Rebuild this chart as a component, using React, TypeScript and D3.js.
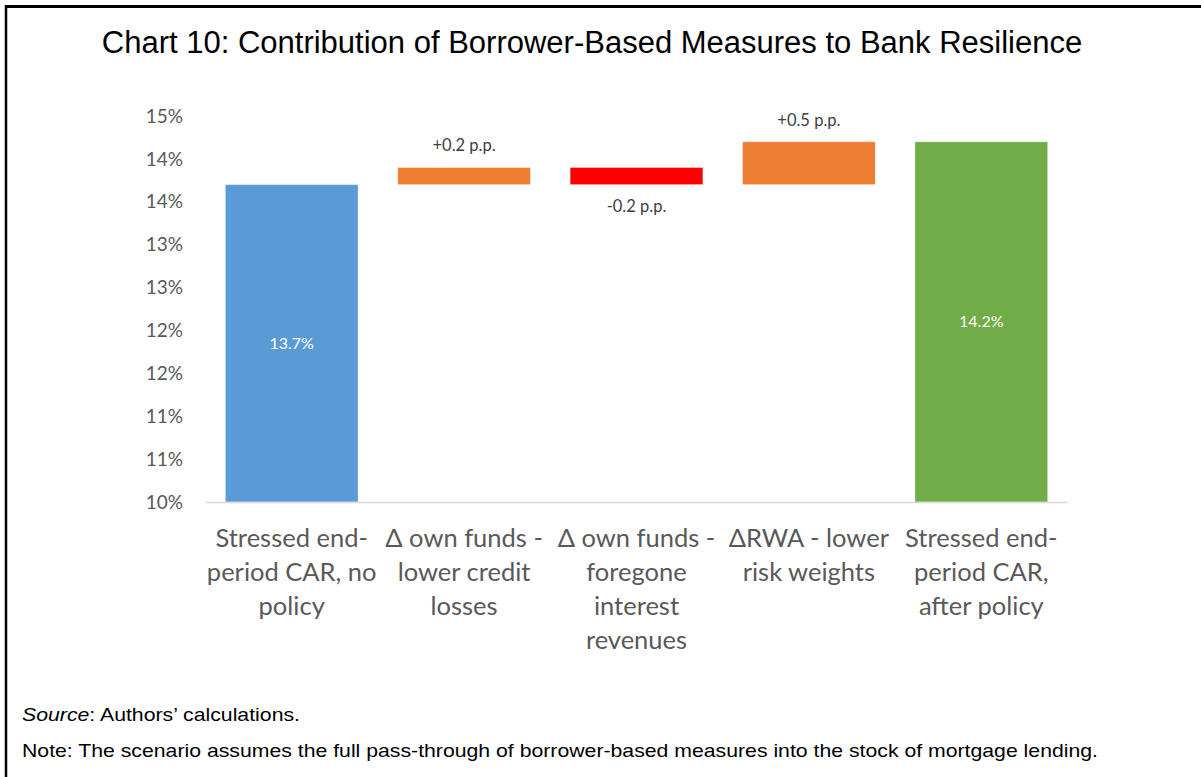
import React from "react";
import * as d3 from "d3";

const categories: string[][] = [
  ["Stressed end-", "period CAR, no", "policy"],
  ["Δ own funds -", "lower credit", "losses"],
  ["Δ own funds -", "foregone", "interest", "revenues"],
  ["ΔRWA - lower", "risk weights"],
  ["Stressed end-", "period CAR,", "after policy"],
];
const values: number[] = [13.7, 0.2, -0.2, 0.5, 14.2];
const kinds: string[] = ["total", "delta", "delta", "delta", "total"];
const barColors: string[] = ["#5B9BD5", "#ED7D31", "#FF0000", "#ED7D31", "#70AD47"];
const dataLabels: string[] = ["13.7%", "+0.2 p.p.", "-0.2 p.p.", "+0.5 p.p.", "14.2%"];
const tickValues: number[] = [10, 10.5, 11, 11.5, 12, 12.5, 13, 13.5, 14, 14.5];
const tickLabels: string[] = ["10%", "11%", "11%", "12%", "12%", "13%", "13%", "14%", "14%", "15%"];

const W = 1201;
const H = 777;
const CAL = "Lato, 'Open Sans', sans-serif";
const ARIAL = "'Liberation Sans', Arial, sans-serif";

export default function App() {
  const x = d3
    .scaleBand<number>()
    .domain(values.map((_, i) => i))
    .range([205.5, 1067.5])
    .paddingInner(0.23)
    .paddingOuter(0.115);
  const y = d3.scaleLinear().domain([10, 14.5]).range([502, 116]);

  let cum = 0;
  const bars = values.map((v, i) => {
    let lo: number, hi: number;
    if (kinds[i] === "total") {
      lo = 10;
      hi = v;
      cum = v;
    } else {
      const start = cum;
      cum = cum + v;
      lo = Math.min(start, cum);
      hi = Math.max(start, cum);
    }
    return { i, v, lo, hi };
  });

  return (
    <svg
      width={W}
      height={H}
      style={{ position: "absolute", left: 0, top: 0, background: "#fff" }}
    >
      <rect x={0} y={0} width={W} height={H} fill="#fff" />
      <line x1={5} y1={6.5} x2={W} y2={6.5} stroke="#000" strokeWidth={3} />
      <line x1={6} y1={5} x2={6} y2={H} stroke="#000" strokeWidth={2.5} />
      <text
        x={592}
        y={53}
        textAnchor="middle"
        fontFamily={ARIAL}
        fontSize={31}
        fill="#000"
      >
        Chart 10: Contribution of Borrower-Based Measures to Bank Resilience
      </text>

      {tickValues.map((t, k) => (
        <text
          key={k}
          x={183}
          y={y(t)}
          dy="0.35em"
          textAnchor="end"
          fontFamily={CAL}
          fontSize={19}
          fill="#595959"
        >
          {tickLabels[k]}
        </text>
      ))}

      {bars.map((b) => {
        const bx = x(b.i)!;
        const bw = x.bandwidth();
        const top = y(b.hi);
        const bot = y(b.lo);
        const cx = bx + bw / 2;
        let label;
        if (kinds[b.i] === "total") {
          label = (
            <text
              x={cx}
              y={(top + bot) / 2}
              dy="0.35em"
              textAnchor="middle"
              fontFamily={CAL}
              fontSize={16}
              fill="#fff"
            >
              {dataLabels[b.i]}
            </text>
          );
        } else if (b.v >= 0) {
          label = (
            <text
              x={cx}
              y={top - 22}
              dy="0.35em"
              textAnchor="middle"
              fontFamily={CAL}
              fontSize={16.5}
              fill="#404040"
            >
              {dataLabels[b.i]}
            </text>
          );
        } else {
          label = (
            <text
              x={cx}
              y={bot + 22}
              dy="0.35em"
              textAnchor="middle"
              fontFamily={CAL}
              fontSize={16.5}
              fill="#404040"
            >
              {dataLabels[b.i]}
            </text>
          );
        }
        return (
          <g key={b.i}>
            <rect
              x={bx}
              y={top}
              width={bw}
              height={bot - top}
              fill={barColors[b.i]}
              stroke="#fff"
              strokeOpacity={0.4}
              strokeWidth={1}
            />
            {label}
          </g>
        );
      })}

      <line x1={205.5} x2={1067.5} y1={502.5} y2={502.5} stroke="#D9D9D9" strokeWidth={1.5} />

      {categories.map((lines, i) => (
        <text
          key={i}
          textAnchor="middle"
          fontFamily={CAL}
          fontSize={25.5}
          fill="#595959"
        >
          {lines.map((ln, j) => (
            <tspan key={j} x={x(i)! + x.bandwidth() / 2} y={538 + j * 34} dy="0.35em">
              {ln}
            </tspan>
          ))}
        </text>
      ))}

      <text x={22} y={721} fontFamily={ARIAL} fontSize={19} fill="#000" textLength={278} lengthAdjust="spacingAndGlyphs">
        <tspan fontStyle="italic">Source</tspan>
        <tspan>: Authors’ calculations.</tspan>
      </text>
      <text x={22} y={757} fontFamily={ARIAL} fontSize={19} fill="#000" textLength={1076} lengthAdjust="spacingAndGlyphs">
        Note: The scenario assumes the full pass-through of borrower-based measures into the stock of mortgage lending.
      </text>
    </svg>
  );
}
